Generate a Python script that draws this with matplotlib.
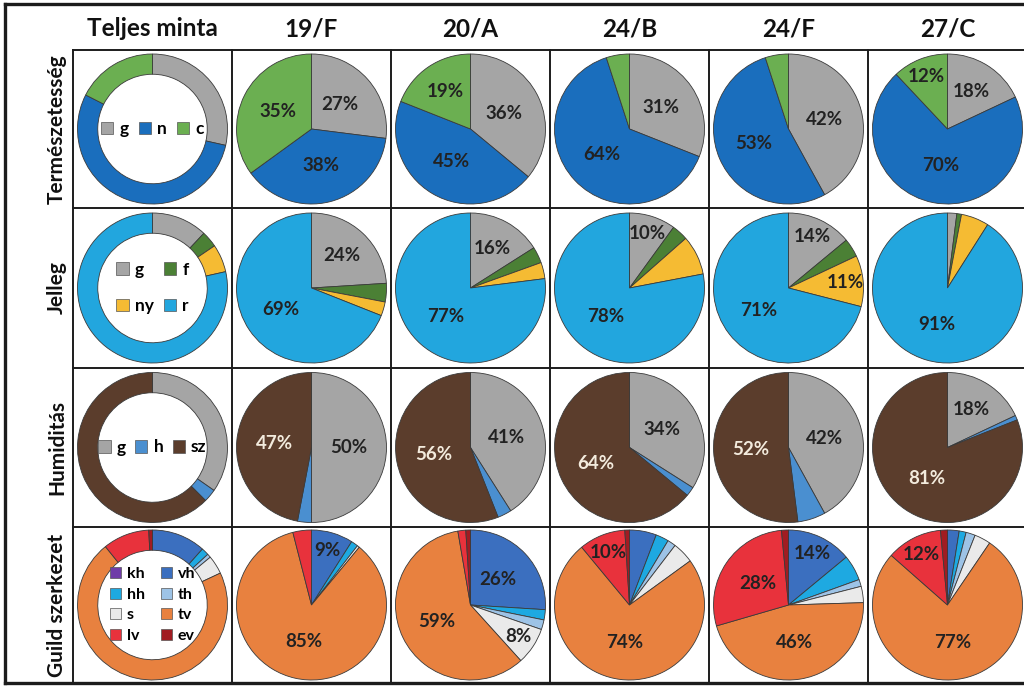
import numpy as np
import matplotlib.pyplot as plt
from matplotlib.patches import Patch

plt.rcParams['font.family'] = ['Lato', 'DejaVu Sans']
plt.rcParams['font.weight'] = 'bold'

# Column and row headings
columns = ["Teljes minta", "19/F", "20/A", "24/B", "24/F", "27/C"]
rows = ["Természetesség", "Jelleg", "Humiditás", "Guild szerkezet"]

# Természetesség: g, n, c  (% per column)
nat_keys = ["g", "n", "c"]
nat_vals = [[28.5, 54, 17.5], [27, 38, 35], [36, 45, 19],
            [31, 64, 5], [42, 53, 5], [18, 70, 12]]
nat_shown = [[], [0, 1, 2], [0, 1, 2], [0, 1], [0, 1], [0, 1, 2]]

# Jelleg: g, f, ny, r
jel_keys = ["g", "f", "ny", "r"]
jel_vals = [[12, 3.5, 6, 78.5], [24, 4, 3, 69], [16, 3.5, 3.5, 77],
            [10, 3.5, 8.5, 78], [14, 4, 11, 71], [2, 1, 6, 91]]
jel_shown = [[], [0, 3], [0, 3], [0, 3], [0, 2, 3], [3]]

# Humiditás: g, h, sz
hum_keys = ["g", "h", "sz"]
hum_vals = [[34.7, 2.8, 62.5], [50, 3, 47], [41, 3, 56],
            [34, 2, 64], [42, 6, 52], [18, 1, 81]]
hum_shown = [[], [0, 2], [0, 2], [0, 2], [0, 2], [0, 2]]

# Guild szerkezet: kh, vh, hh, th, s, tv, lv, ev
gui_keys = ["kh", "vh", "hh", "th", "s", "tv", "lv", "ev"]
gui_vals = [[0, 11.6, 1.6, 0.8, 4.0, 71.2, 10, 0.8],
            [0, 9, 1.5, 0, 0.5, 85, 4, 0],
            [0, 26, 2.2, 2.1, 8, 59, 1.7, 1.0],
            [0, 5.8, 2.8, 1.8, 4.6, 74, 10, 1.0],
            [0, 14, 5.5, 1.5, 3.5, 46, 28, 1.5],
            [0, 2.5, 1.5, 2, 3.5, 77, 12, 1.5]]
gui_shown = [[], [1, 5], [1, 4, 5], [5, 6], [1, 5, 6], [5, 6]]

GRAY = '#A5A5A5'
panels = [
    dict(keys=nat_keys, vals=nat_vals, shown=nat_shown,
         colors=[GRAY, '#1A6EBD', '#6BAF51'],
         txt=['#222222'] * 3,
         leg_order=[0, 1, 2], ncol=3, leg_size=12.5, leg_spacing=0.5, colsp=0.6),
    dict(keys=jel_keys, vals=jel_vals, shown=jel_shown,
         colors=[GRAY, '#4B8035', '#F5BB33', '#22A6DE'],
         txt=['#222222'] * 4,
         leg_order=[0, 2, 1, 3], ncol=2, leg_size=12.5, leg_spacing=1.2, colsp=0.6),
    dict(keys=hum_keys, vals=hum_vals, shown=hum_shown,
         colors=[GRAY, '#4A8FD0', '#5B3D2C'],
         txt=['#222222', '#222222', '#F3EBDD'],
         leg_order=[0, 1, 2], ncol=3, leg_size=12.5, leg_spacing=0.5, colsp=0.55),
    dict(keys=gui_keys, vals=gui_vals, shown=gui_shown,
         colors=['#6F3CA8', '#3B6FBF', '#1EA9E1', '#9DC3E6', '#EAEAEA',
                 '#E8813F', '#E8323C', '#A11C22'],
         txt=['#222222'] * 8,
         leg_order=[0, 2, 4, 6, 1, 3, 5, 7], ncol=2, leg_size=11.5, leg_spacing=0.4, colsp=1.0),
]

W, H = 1024, 686
fig = plt.figure(figsize=(W / 100, H / 100), dpi=100)

col_edges = [73, 232, 391, 550, 709, 868, 1027]
row_edges = [50, 208, 368, 527, 683]
R = 75      # pie radius in pixels
box = 78    # half size of each pie axes in pixels

frame = fig.add_axes([0, 0, 1, 1])
frame.set_xlim(0, W)
frame.set_ylim(H, 0)
frame.axis('off')

# outer border
line_kw = dict(color='#1c1c1c', solid_capstyle='projecting')
frame.plot([5, W], [4, 4], lw=2.4, **line_kw)
frame.plot([5, 5], [4, 683], lw=2.4, **line_kw)
frame.plot([5, W], [683, 683], lw=2.4, **line_kw)
# table grid
for y in row_edges[:-1]:
    frame.plot([73, W], [y, y], lw=1.4, **line_kw)
for x in col_edges[:-1]:
    frame.plot([x, x], [50, 683], lw=1.4, **line_kw)

for j, name in enumerate(columns):
    cx = (col_edges[j] + col_edges[j + 1]) / 2
    frame.text(cx, 29, name, ha='center', va='center', fontsize=17.5,
               weight='bold', color='#111111')

for i, name in enumerate(rows):
    cy = (row_edges[i] + row_edges[i + 1]) / 2
    frame.text(57, cy, name, ha='center', va='center', rotation=90,
               fontsize=15, weight='bold', color='#111111')


def label_dist(v):
    if v >= 25:
        return 0.5
    if v >= 15:
        return 0.6
    return 0.76


for i, p in enumerate(panels):
    cy = (row_edges[i] + row_edges[i + 1]) / 2
    for j in range(len(columns)):
        cx = (col_edges[j] + col_edges[j + 1]) / 2
        ax = fig.add_axes([(cx - box) / W, (H - cy - box) / H, 2 * box / W, 2 * box / H])
        lim = box / R
        vals = p['vals'][j]
        keep = [k for k, v in enumerate(vals) if v > 0]
        wp = dict(edgecolor='#3a3a3a', linewidth=0.6)
        donut = j == 0
        if donut:
            wp['width'] = 0.27
        wedges, _ = ax.pie([vals[k] for k in keep], colors=[p['colors'][k] for k in keep],
                           startangle=90, counterclock=False, radius=1, wedgeprops=wp)
        for w, k in zip(wedges, keep):
            if k not in p['shown'][j]:
                continue
            mid = np.deg2rad((w.theta1 + w.theta2) / 2)
            d = label_dist(vals[k])
            ax.text(d * np.cos(mid), d * np.sin(mid), f"{vals[k]:.0f}%",
                    ha='center', va='center', fontsize=13.5, weight='bold',
                    color=p['txt'][k])
        if donut:
            handles = [Patch(facecolor=p['colors'][k], edgecolor='#555555', lw=0.5,
                             label=p['keys'][k]) for k in p['leg_order']]
            ax.legend(handles=handles, loc='center', ncol=p['ncol'], frameon=False,
                      handlelength=0.7, handleheight=0.7, handletextpad=0.35,
                      columnspacing=p['colsp'], labelspacing=p['leg_spacing'],
                      borderpad=0, prop=dict(weight='bold', size=p['leg_size']))
        ax.set_xlim(-lim, lim)
        ax.set_ylim(-lim, lim)
        ax.set_aspect('equal')
        ax.axis('off')

fig.savefig('out.png', dpi=100)
